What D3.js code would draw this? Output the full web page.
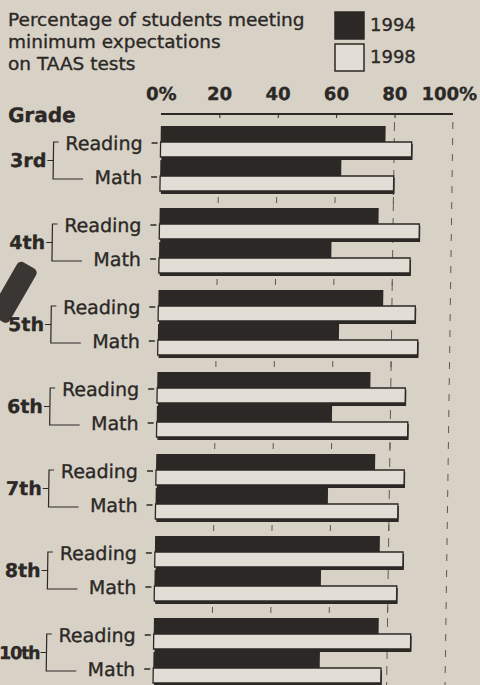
<!DOCTYPE html>
<html>
<head>
<meta charset="utf-8">
<script src="https://cdn.jsdelivr.net/npm/d3@7"></script>
<style>
  html, body { margin: 0; padding: 0; background: #d8d2c6; }
  svg { display: block; }
  text { font-family: "DejaVu Sans", sans-serif; fill: #2b2826; stroke: #2b2826; stroke-width: 0.35px; }
</style>
</head>
<body>
<div id="chart"></div>
<script>
var grades = ["3rd", "4th", "5th", "6th", "7th", "8th", "10th"];
var subjects = ["Reading", "Math"];
var years = ["1994", "1998"];
var reading1994 = [77, 75, 77, 73, 75, 77, 77];
var reading1998 = [86, 89, 88, 85, 85, 85, 88];
var math1994 = [62, 59, 62, 60, 59, 57, 57];
var math1998 = [80, 86, 89, 86, 83, 83, 78];
var tickValues = [0, 20, 40, 60, 80, 100];
var tickLabels = ["0%", "20", "40", "60", "80", "100%"];
var titleLines = ["Percentage of students meeting", "minimum expectations", "on TAAS tests"];

var W = 480, H = 685;
var ink = "#2b2826", paper = "#e2ded5";

var svg = d3.select("#chart").append("svg")
  .attr("width", W).attr("height", H);

svg.append("rect").attr("width", W).attr("height", H).attr("fill", "#d8d2c6");

// title
svg.append("g").selectAll("text").data(titleLines).join("text")
  .attr("x", 8).attr("y", function(d, i) { return 26 + i * 22; })
  .style("font-size", "18.5px")
  .text(function(d) { return d; });

// legend
var legend = svg.append("g").attr("transform", "translate(335, 12)");
legend.selectAll("rect").data(years).join("rect")
  .attr("x", 0).attr("y", function(d, i) { return i * 32; })
  .attr("width", 29).attr("height", 27)
  .attr("fill", function(d, i) { return i ? paper : ink; })
  .attr("stroke", ink).attr("stroke-width", 1.5);
legend.selectAll("text").data(years).join("text")
  .attr("x", 35).attr("y", function(d, i) { return 19 + i * 32; })
  .style("font-size", "18px")
  .text(function(d) { return d; });

// pencil peeking in from the left edge
svg.append("rect")
  .attr("x", -11).attr("y", -26).attr("width", 22).attr("height", 62).attr("rx", 5)
  .attr("fill", "#3a3633")
  .attr("transform", "translate(16, 288) rotate(30)");

// chart area (scan is slightly sheared, bottom drifts left)
var g = svg.append("g").attr("transform", "translate(0,114) skewX(-0.8) translate(0,-114)");

var x = d3.scaleLinear().domain([0, 100]).range([161, 453]);
var y = d3.scaleBand().domain(grades).range([126, 126 + 82 * 6 + 66]).paddingInner(16 / 82);
var ySub = d3.scaleBand().domain(subjects).range([0, y.bandwidth()]).paddingInner(0.06);
var yYear = d3.scaleBand().domain(years).range([0, ySub.bandwidth()]);

g.append("text").attr("x", 8).attr("y", 122)
  .style("font-size", "20px").style("font-weight", "bold").text("Grade");

g.selectAll(".tl").data(tickValues).join("text")
  .attr("class", "tl")
  .attr("x", function(d) { return x(d) + (d === 100 ? -4 : 0); })
  .attr("y", 100)
  .attr("text-anchor", "middle")
  .style("font-size", "18px").style("font-weight", "bold")
  .text(function(d, i) { return tickLabels[i]; });

// top axis
var topAxis = g.append("g").attr("transform", "translate(0,114)")
  .call(d3.axisBottom(x).tickValues([20, 40, 60, 80]).tickSize(4).tickFormat(""));
topAxis.select(".domain").attr("stroke", ink).attr("stroke-width", 2)
  .attr("d", "M" + x(0) + ",0H" + x(100));
topAxis.selectAll(".tick line").attr("stroke", ink);

// dashed guides at 80 and 100
g.selectAll(".guide").data([80, 100]).join("line")
  .attr("class", "guide")
  .attr("x1", function(d) { return x(d); }).attr("x2", function(d) { return x(d); })
  .attr("y1", 122).attr("y2", H + 10)
  .attr("stroke", "#5f5954").attr("stroke-width", 1)
  .attr("stroke-dasharray", function(d) { return d === 80 ? "9,7" : "7,9"; });

var rows = [];
grades.forEach(function(gr, i) {
  rows.push({ grade: gr, subject: "Reading", year: "1994", v: reading1994[i] });
  rows.push({ grade: gr, subject: "Reading", year: "1998", v: reading1998[i] });
  rows.push({ grade: gr, subject: "Math", year: "1994", v: math1994[i] });
  rows.push({ grade: gr, subject: "Math", year: "1998", v: math1998[i] });
});
function rowY(d) { return y(d.grade) + ySub(d.subject) + yYear(d.year); }

var groups = g.selectAll(".grade").data(grades).join("g").attr("class", "grade");

// little grid ticks in the gaps between grades
groups.filter(function(d, i) { return i < grades.length - 1; })
  .each(function(gr) {
    d3.select(this).selectAll("line.gt").data([20, 40, 60, 80]).join("line")
      .attr("class", "gt")
      .attr("x1", function(d) { return x(d); }).attr("x2", function(d) { return x(d); })
      .attr("y1", y(gr) + y.bandwidth() + 5)
      .attr("y2", y(gr) + y.bandwidth() + 11)
      .attr("stroke", "#5a5550").attr("stroke-width", 1);
  });

// 1998 bars: light with shadowed outline
var open = rows.filter(function(d) { return d.year === "1998"; });
g.selectAll(".shadow").data(open).join("rect")
  .attr("class", "shadow")
  .attr("x", x(0) + 1).attr("y", function(d) { return rowY(d) + 2; })
  .attr("width", function(d) { return x(d.v) - x(0); })
  .attr("height", yYear.bandwidth())
  .attr("fill", ink);
g.selectAll(".open").data(open).join("rect")
  .attr("class", "open")
  .attr("x", x(0)).attr("y", function(d) { return rowY(d); })
  .attr("width", function(d) { return x(d.v) - x(0); })
  .attr("height", yYear.bandwidth() - 1)
  .attr("fill", paper).attr("stroke", ink).attr("stroke-width", 1.3);

// 1994 bars: solid
g.selectAll(".solid").data(rows.filter(function(d) { return d.year === "1994"; })).join("rect")
  .attr("class", "solid")
  .attr("x", x(0)).attr("y", function(d) { return rowY(d); })
  .attr("width", function(d) { return x(d.v) - x(0); })
  .attr("height", yYear.bandwidth())
  .attr("fill", ink);

// subject labels, ticks and brackets
groups.each(function(gr) {
  var sel = d3.select(this);
  var y0 = y(gr);
  var cy = function(s) { return y0 + ySub(s) + ySub.bandwidth() / 2; };

  sel.selectAll("text.sub").data(subjects).join("text")
    .attr("class", "sub")
    .attr("x", 143).attr("y", function(s) { return cy(s) + 8; })
    .attr("text-anchor", "end")
    .style("font-size", "19px")
    .text(function(s) { return s; });

  sel.selectAll("line.st").data(subjects).join("line")
    .attr("class", "st")
    .attr("x1", 152).attr("x2", 158)
    .attr("y1", function(s) { return cy(s) + 1; }).attr("y2", function(s) { return cy(s) + 1; })
    .attr("stroke", ink).attr("stroke-width", 1.3);

  var yt = cy("Reading"), yb = cy("Math") + 3;
  sel.append("path")
    .attr("d", "M59," + yt + "H54V" + yb + "H84")
    .attr("fill", "none").attr("stroke", ink).attr("stroke-width", 1.2);
  sel.append("line")
    .attr("x1", 48).attr("x2", 54)
    .attr("y1", (yt + yb) / 2).attr("y2", (yt + yb) / 2)
    .attr("stroke", ink).attr("stroke-width", 1.2);

  var wide = gr.length > 3;
  sel.append("text")
    .attr("x", 47).attr("y", (yt + yb) / 2 + 7)
    .attr("text-anchor", "end")
    .style("font-size", wide ? "17.5px" : "19px").style("font-weight", "bold")
    .style("letter-spacing", wide ? "-1.2px" : null)
    .text(gr);
});
</script>
</body>
</html>
